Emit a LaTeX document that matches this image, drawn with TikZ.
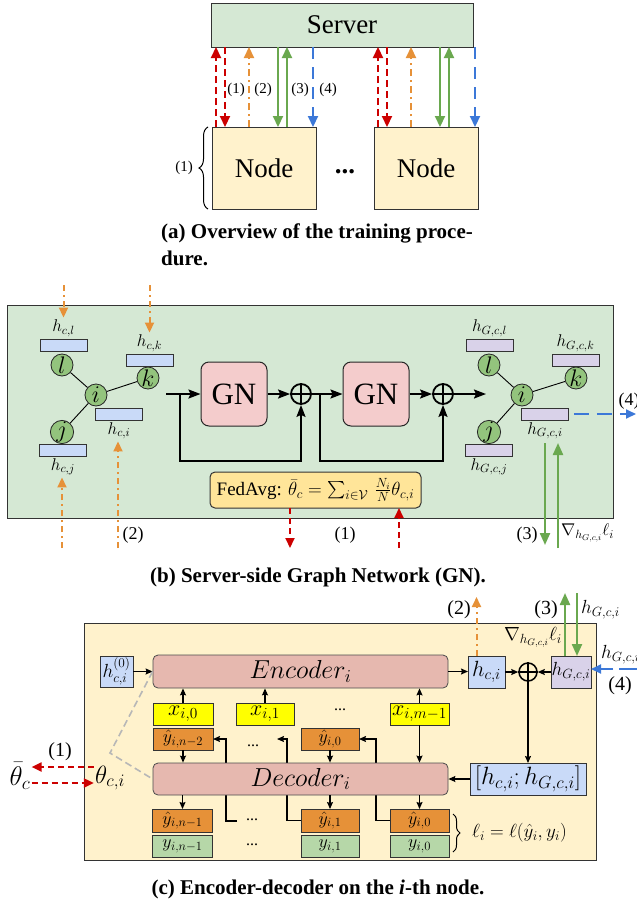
\RequirePackage{fix-cm}
\documentclass[tikz,border=0pt]{standalone}
\usepackage{exscale}
\usepackage[no-math]{fontspec}
\setmainfont{Liberation Serif}
\usetikzlibrary{arrows.meta,decorations.pathreplacing,calc}
\definecolor{srvgreen}{HTML}{D5E8D4}
\definecolor{nodeyel}{HTML}{FFF2CC}
\definecolor{circgreen}{HTML}{93C47D}
\definecolor{barblue}{HTML}{C9DAF8}
\definecolor{barlav}{HTML}{D9D2E9}
\definecolor{gnpink}{HTML}{F4CCCC}
\definecolor{fedyel}{HTML}{FFE599}
\definecolor{encpink}{HTML}{E6B8AF}
\definecolor{xyel}{HTML}{FFFF00}
\definecolor{yhorange}{HTML}{E69138}
\definecolor{ygreen}{HTML}{B6D7A8}
\definecolor{ared}{HTML}{CC0000}
\definecolor{aorange}{HTML}{E69138}
\definecolor{agreen}{HTML}{6AA84F}
\definecolor{ablue}{HTML}{3C78D8}
\definecolor{dgray}{HTML}{B7B7B7}
\newcommand{\myfs}[1]{\fontsize{#1}{#1}\selectfont}
\tikzset{
  box/.style={draw=black!80, line width=1pt, inner sep=0pt, outer sep=0pt},
  tipA/.style={-{Triangle[length=11pt,width=10pt]}},
  redd/.style={draw=ared, line width=2.2pt, dash pattern=on 7pt off 4pt, tipA},
  orgd/.style={draw=aorange, line width=2.2pt, dash pattern=on 7pt off 4pt on 2pt off 4pt, tipA},
  grn/.style={draw=agreen, line width=2.2pt, tipA},
  blud/.style={draw=ablue, line width=2.2pt, dash pattern=on 12pt off 8pt, tipA},
  lblA/.style={font=\myfs{15}, inner sep=0pt},
  lblB/.style={font=\myfs{18}, inner sep=0pt},
  lblC/.style={font=\myfs{20}, inner sep=0pt},
  capt/.style={font=\myfs{21}\bfseries, inner sep=0pt},
  gc/.style={circle, draw=black!85, fill=circgreen, line width=0.8pt, minimum size=22pt, inner sep=0pt, font=\myfs{24}},
  bar/.style={draw=black!80, line width=0.8pt, minimum width=47pt, minimum height=12pt, inner sep=0pt},
  mlab/.style={font=\myfs{17}, inner sep=2pt},
  blk/.style={draw=black, line width=1.8pt, -{Stealth[length=12pt,width=9pt,inset=2pt]}},
  blkl/.style={draw=black, line width=1.8pt},
  gnbox/.style={draw=black!85, line width=1pt, fill=gnpink, rounded corners=8pt, minimum width=66pt, minimum height=64pt, inner sep=0pt, font=\myfs{31}},
  opl/.style={circle, draw=black, line width=1.8pt, minimum size=20pt, inner sep=0pt},
  orgdB/.style={draw=aorange, line width=2pt, dash pattern=on 6pt off 4pt on 2pt off 4pt, -{Triangle[length=10pt,width=9pt]}},
  reddB/.style={draw=ared, line width=2pt, dash pattern=on 6pt off 4pt, -{Triangle[length=10pt,width=9pt]}},
  grnB/.style={draw=agreen, line width=2.2pt, -{Triangle[length=12pt,width=10pt]}},
  bludB/.style={draw=ablue, line width=1.8pt, dash pattern=on 15pt off 8pt, -{Triangle[length=10pt,width=9pt]}},
  encbox/.style={draw=black!70, line width=0.8pt, fill=encpink, rounded corners=5pt, minimum width=295pt, minimum height=33pt, inner sep=0pt, font=\myfs{26}},
  xb/.style={box, fill=xyel, minimum width=60pt, minimum height=22pt, font=\myfs{22}},
  yhb/.style={box, fill=yhorange, minimum width=60pt, minimum height=22pt, font=\myfs{18}},
  yb/.style={box, fill=ygreen, minimum width=60pt, minimum height=22pt, font=\myfs{18}},
  dts/.style={font=\myfs{16}, inner sep=0pt},
  blkc/.style={draw=black, line width=1.2pt, -{Stealth[length=7pt,width=6pt,inset=1pt]}},
  blkcl/.style={draw=black, line width=1.2pt},
  gdash/.style={draw=dgray, line width=1.6pt, dash pattern=on 7pt off 4pt},
}
\begin{document}
\begin{tikzpicture}[x=1pt,y=-1pt]
\useasboundingbox (0,0) rectangle (637,905);
\fill[white] (0,0) rectangle (637,905);

% ===================== (a) =====================
\node[box, fill=srvgreen, minimum width=262pt, minimum height=44pt, font=\myfs{27}] (server) at (342,25) {Server};
\node[box, fill=nodeyel, minimum width=104pt, minimum height=82pt, font=\myfs{27}] (nodeL) at (264,168) {Node};
\node[box, fill=nodeyel, minimum width=104pt, minimum height=82pt, font=\myfs{27}] (nodeR) at (426,168) {Node};
\node[font=\myfs{27}\bfseries, inner sep=0pt] (dotsA) at (345,172) {...};
\coordinate (bb) at ([xshift=-4pt]nodeL.south west);
\coordinate (bt) at ([xshift=-4pt]nodeL.north west);
\draw[line width=1pt, decorate, decoration={brace, amplitude=9pt}] (bb) -- (bt);
\node[lblA] (braceA) at (184,168) {(1)};

\foreach \n in {nodeL,nodeR}{
  \coordinate (\n-r1) at ([xshift=4pt]\n.north west);
  \coordinate (\n-r2) at ([xshift=13pt]\n.north west);
  \coordinate (\n-o) at ([xshift=37pt]\n.north west);
  \coordinate (\n-g1) at ([xshift=66pt]\n.north west);
  \coordinate (\n-g2) at ([xshift=75pt]\n.north west);
  \coordinate (\n-b) at ([xshift=101pt]\n.north west);
  \draw[redd] (\n-r1) -- (\n-r1 |- server.south);
  \draw[redd] (\n-r2 |- server.south) -- (\n-r2);
  \draw[orgd] (\n-o) -- (\n-o |- server.south);
  \draw[grn] (\n-g1 |- server.south) -- (\n-g1);
  \draw[grn] (\n-g2) -- (\n-g2 |- server.south);
  \draw[blud] (\n-b |- server.south) -- (\n-b);
}
\node[lblA] (la1) at (236,90) {(1)};
\node[lblA] (la2) at (263,90) {(2)};
\node[lblA] (la3) at (300,90) {(3)};
\node[lblA] (la4) at (328,90) {(4)};

\node[capt, anchor=west] (capa1) at (161,233) {(a) Overview of the training proce-};
\node[capt, anchor=west] (capa2) at (161,258) {dure.};

% ===================== (b) =====================
\node[box, fill=srvgreen, minimum width=606pt, minimum height=213pt] (gnframe) at (310,411.5) {};

% left graph
\node[gc] (gl) at (62,365) {$l$};
\node[gc] (gi) at (96,395) {$i$};
\node[gc] (gk) at (148,378) {$k$};
\node[gc] (gj) at (62,432) {$j$};
\draw[line width=0.9pt] (gi) -- (gl) (gi) -- (gk) (gi) -- (gj);
\node[bar, fill=barblue] (hcl) at (63.5,345) {};
\node[bar, fill=barblue] (hck) at (149.5,360) {};
\node[bar, fill=barblue] (hci0) at (119,414) {};
\node[bar, fill=barblue] (hcj) at (63,450) {};
\node[mlab, anchor=south] (hcllab) at (hcl.north) {$h_{c,l}$};
\node[mlab, anchor=south] (hcklab) at (hck.north) {$h_{c,k}$};
\node[mlab, anchor=north] (hcilab) at (hci0.south) {$h_{c,i}$};
\node[mlab, anchor=north] (hcjlab) at (hcj.south) {$h_{c,j}$};
\coordinate (o1s) at (63.5,285);
\coordinate (o2s) at (149.5,285);
\coordinate (o3s) at (62,548);
\coordinate (o4s) at (118,548);
\draw[orgdB] (o1s) -- (hcllab.north);
\draw[orgdB] (o2s) -- (hcklab.north);
\draw[orgdB] (o3s) -- (o3s |- hcjlab.south);
\draw[orgdB] (o4s) -- (o4s |- hcilab.south);
\node[lblB] (lb2) at (133,535) {(2)};

% GN chain
\coordinate (fin) at (166,394);
\node[gnbox] (gn1) at (234,394) {GN};
\node[opl] (op1) at (301,394) {};
\draw[line width=1.8pt] (op1.north) -- (op1.south) (op1.west) -- (op1.east);
\node[gnbox] (gn2) at (376,394) {GN};
\node[opl] (op2) at (443,394) {};
\draw[line width=1.8pt] (op2.north) -- (op2.south) (op2.west) -- (op2.east);
\coordinate (fout) at (486,394);
\coordinate (br1) at (180,394);
\coordinate (lp1) at (180,461);
\coordinate (br2) at (320,394);
\coordinate (lp2) at (320,461);
\draw[blk] (fin) -- (gn1.west);
\draw[blk] (br1) -- (lp1) -| (op1.south);
\draw[blk] (gn1.east) -- (op1.west);
\draw[blk] (op1.east) -- (gn2.west);
\draw[blk] (br2) -- (lp2) -| (op2.south);
\draw[blk] (gn2.east) -- (op2.west);
\draw[blk] (op2.east) -- (fout);

% right graph
\node[gc] (rl) at (489,365) {$l$};
\node[gc] (ri) at (522,395) {$i$};
\node[gc] (rk) at (576,378) {$k$};
\node[gc] (rj) at (489,432) {$j$};
\draw[line width=0.9pt] (ri) -- (rl) (ri) -- (rk) (ri) -- (rj);
\node[bar, fill=barlav] (hgl) at (489.5,345) {};
\node[bar, fill=barlav] (hgk) at (575.5,360) {};
\node[bar, fill=barlav] (hgi) at (545,414) {};
\node[bar, fill=barlav] (hgj) at (489,450) {};
\node[mlab, anchor=south] (hgllab) at (hgl.north) {$h_{G,c,l}$};
\node[mlab, anchor=south] (hgklab) at (hgk.north) {$h_{G,c,k}$};
\node[mlab, anchor=north] (hgilab) at (hgi.south) {$h_{G,c,i}$};
\node[mlab, anchor=north] (hgjlab) at (hgj.south) {$h_{G,c,j}$};
\coordinate (b4e) at (636,414);
\draw[bludB] ([xshift=5pt]hgi.east) -- (b4e);
\node[lblB] (lb4) at (629,401) {(4)};
\coordinate (g3a) at (545,443);
\coordinate (g3b) at (545,545);
\coordinate (g3c) at (558,548);
\coordinate (g3d) at (558,443);
\draw[grnB] (g3a) -- (g3b);
\draw[grnB] (g3c) -- (g3d);
\node[lblB] (lb3) at (527,535) {(3)};
\node[font=\myfs{17}, anchor=west, inner sep=0pt] (gradb) at (561,533) {$\nabla_{h_{G,c,i}}\ell_i$};

% FedAvg
\node[box, rounded corners=5pt, fill=fedyel, minimum width=211pt, minimum height=36pt, font=\myfs{19}] (fed) at (315.5,490) {FedAvg: $\bar{\theta}_c = \sum_{i\in\mathcal{V}}\,\frac{N_i}{N}\theta_{c,i}$};
\coordinate (rx1) at (290,548);
\coordinate (rx2) at (399,548);
\draw[reddB] (fed.south -| rx1) -- (rx1);
\draw[reddB] (rx2) -- (rx2 |- fed.south);
\node[lblB] (lb1) at (345,535) {(1)};

\node[capt] (capb) at (318,577) {(b) Server-side Graph Network (GN).};

% ===================== (c) =====================
\node[box, fill=nodeyel, minimum width=512pt, minimum height=237pt] (cframe) at (340,741.5) {};
\node[box, fill=barblue, minimum width=33pt, minimum height=31pt, font=\myfs{19}] (h0) at (116.5,671.5) {$h^{(0)}_{c,i}$};
\node[encbox] (enc) at (300.5,671.5) {$Encoder_i$};
\node[xb] (x0) at (183,714) {$x_{i,0}$};
\node[xb, minimum width=58pt] (x1) at (265,714) {$x_{i,1}$};
\node[dts] (d1) at (340,710) {...};
\node[xb, minimum width=59pt] (xm) at (419.5,714) {$x_{i,m-1}$};
\node[yhb] (yh2) at (183,739) {$\hat{y}_{i,n-2}$};
\node[dts] (d2) at (253,746) {...};
\node[yhb, minimum width=58pt] (yh0u) at (330,739) {$\hat{y}_{i,0}$};
\node[yhb, minimum height=23pt] (yhn1) at (182.5,820.5) {$\hat{y}_{i,n-1}$};
\node[yb] (yn1) at (182.5,846) {$y_{i,n-1}$};
\node[dts] (d3) at (252,820) {...};
\node[dts] (d4) at (252,845) {...};
\node[yhb, minimum width=58pt, minimum height=23pt] (yh1) at (330,820.5) {$\hat{y}_{i,1}$};
\node[yb, minimum width=58pt] (y1) at (330,846) {$y_{i,1}$};
\node[yhb, minimum width=59pt, minimum height=23pt] (yh0) at (419.5,820.5) {$\hat{y}_{i,0}$};
\node[yb, minimum width=59pt] (y0) at (419.5,846) {$y_{i,0}$};

% feedback lines (behind decoder)
\coordinate (f1a) at (237,821);
\coordinate (f1b) at (226,739);
\draw[blkc] (f1a) -| (f1b) -- (yh2.east);
\coordinate (f2b) at (287,739);
\coordinate (f2e) at (277,739);
\draw[blkc] (yh1.west) -| (f2b) -- (f2e);
\coordinate (f3b) at (376,739);
\draw[blkc] (yh0.west) -| (f3b) -- (yh0u.east);

\node[encbox, minimum height=32pt] (dec) at (300.5,779) {$Decoder_i$};

\draw[blkc] (h0.east) -- (enc.west);
\draw[blkc] (x0.north) -- (x0.north |- enc.south);
\draw[blkc] (x1.north) -- (x1.north |- enc.south);
\draw[blkc] (xm.north) -- (xm.north |- enc.south);
\draw[blkc] (xm.south) -- (xm.south |- dec.north);
\draw[blkc] (yh2.south) -- (yh2.south |- dec.north);
\draw[blkc] (yh0u.south) -- (yh0u.south |- dec.north);
\draw[blkc] (dec.south -| yhn1.north) -- (yhn1.north);
\draw[blkc] (dec.south -| yh1.north) -- (yh1.north);
\draw[blkc] (dec.south -| yh0.north) -- (yh0.north);

% right part
\node[box, fill=barblue, minimum width=37pt, minimum height=32pt, font=\myfs{22}] (hci) at (486.5,672) {$h_{c,i}$};
\node[opl, line width=1.5pt, minimum size=18pt] (op3) at (528,672) {};
\draw[line width=1.5pt] (op3.north) -- (op3.south) (op3.west) -- (op3.east);
\node[box, fill=barlav, minimum width=40pt, minimum height=32pt, font=\myfs{19}] (hgci) at (571,672) {$h_{G,c,i}$};
\node[box, fill=barblue, minimum width=116pt, minimum height=32pt, font=\myfs{25}] (cat) at (528,779) {$[h_{c,i};h_{G,c,i}]$};
\draw[blkc] (enc.east) -- (hci.west |- enc.east);
\draw[blkc] (hci.east) -- (op3.west);
\draw[blkc] (hgci.west) -- (op3.east);
\draw[blkc] (op3.south) -- (cat.north);
\draw[blkc] (cat.west) -- (dec.east);

\coordinate (o5s) at ([xshift=-10pt]hci.north);
\coordinate (o5e) at (476.5,597);
\draw[orgdB] (o5s) -- (o5e);
\node[lblC] (lc2) at (459,610) {(2)};
\coordinate (g5) at (565,593);
\coordinate (g6) at (577,593);
\draw[grnB] (g5 |- hgci.north) -- (g5);
\draw[grnB] (g6) -- (g6 |- hgci.north);
\node[lblC] (lc3) at (546,610) {(3)};
\node[font=\myfs{19}, anchor=west, inner sep=0pt] (hglab) at (581,610) {$h_{G,c,i}$};
\node[font=\myfs{19}, inner sep=0pt] (gradc) at (533,637) {$\nabla_{h_{G,c,i}}\ell_i$};
\coordinate (b5) at (637,669);
\draw[bludB, dash pattern=on 18pt off 6pt] (b5) -- (b5 -| hgci.east);
\node[font=\myfs{19}, anchor=west, inner sep=0pt] (hglab2) at (601,655) {$h_{G,c,i}$};
\node[lblC] (lc4) at (620,686) {(4)};

% theta
\node[font=\myfs{25}, inner sep=1pt] (thci) at (110,778) {$\theta_{c,i}$};
\node[font=\myfs{27}, inner sep=1pt] (tbar) at (20,776) {$\bar{\theta}_c$};
\coordinate (t1) at (0,767);
\coordinate (t2) at (0,783);
\draw[reddB] (thci.west |- t1) -- (tbar.east |- t1);
\draw[reddB] (tbar.east |- t2) -- (thci.west |- t2);
\node[lblC] (lc1) at (60,752) {(1)};
\coordinate (gk2) at (110,753);
\draw[gdash] (enc.west) -- (gk2) -- (dec.west);

% brace
\coordinate (brt) at ([xshift=4pt,yshift=-5pt]yh0.north east);
\coordinate (brb) at ([xshift=4pt,yshift=5pt]y0.south east);
\draw[line width=1pt, decorate, decoration={brace, amplitude=7pt}] (brt) -- (brb);
\node[font=\myfs{19}, anchor=west, inner sep=0pt] (lossl) at (472,833) {$\ell_i = \ell(\hat{y}_i, y_i)$};

\node[capt] (capc) at (318,889) {(c) Encoder-decoder on the \textit{i}-th node.};
\end{tikzpicture}
\end{document}
